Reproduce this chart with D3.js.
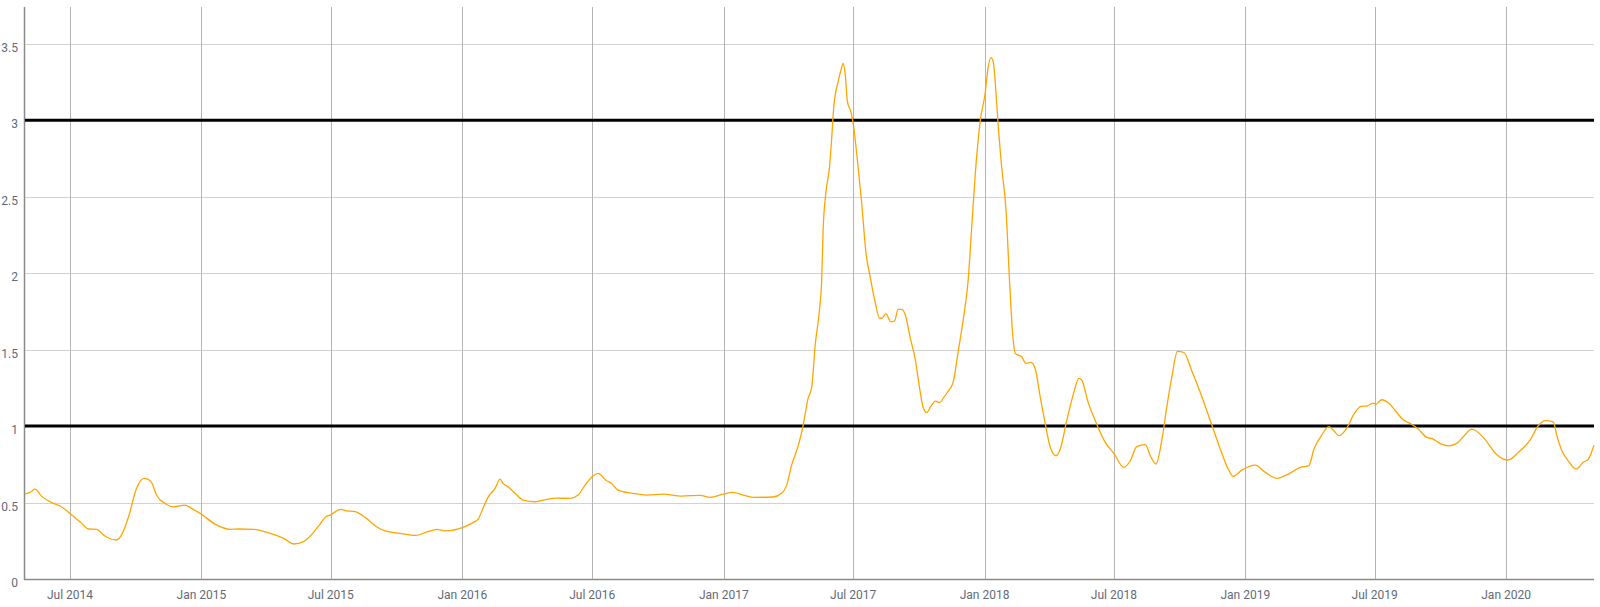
<!DOCTYPE html>
<html>
<head>
<meta charset="utf-8">
<script src="https://cdn.jsdelivr.net/npm/d3@7"></script>
<style>
  html, body { margin: 0; padding: 0; background: #ffffff; }
  svg { display: block; }
  text { font-family: Roboto, "Noto Sans", sans-serif; }
</style>
</head>
<body>
<svg id="chart" width="1600" height="607"></svg>
<script>
// ---- Data ----
const dates = [
  "2014-04-29","2014-05-06","2014-05-13","2014-05-22","2014-06-08","2014-06-17","2014-07-01","2014-07-15","2014-07-27","2014-08-07",
  "2014-08-19","2014-09-03","2014-09-11","2014-09-21","2014-10-02","2014-10-13","2014-10-23","2014-10-30","2014-11-11","2014-11-23",
  "2014-12-09","2014-12-18","2015-01-01","2015-01-20","2015-02-10","2015-02-22","2015-03-15","2015-04-05","2015-04-26","2015-05-10",
  "2015-05-24","2015-06-16","2015-06-23","2015-06-30","2015-07-15","2015-07-23","2015-08-04","2015-08-18","2015-09-03","2015-09-15",
  "2015-10-06","2015-10-28","2015-11-12","2015-11-27","2015-12-08","2016-01-02","2016-01-14","2016-01-23","2016-01-30","2016-02-06",
  "2016-02-16","2016-02-23","2016-02-27","2016-03-05","2016-03-15","2016-03-26","2016-04-12","2016-04-28","2016-05-12","2016-05-31",
  "2016-06-11","2016-06-21","2016-07-02","2016-07-09","2016-07-21","2016-07-28","2016-08-06","2016-08-27","2016-09-15","2016-10-08",
  "2016-11-03","2016-11-29","2016-12-13","2016-12-31","2017-01-14","2017-01-28","2017-02-11","2017-03-11","2017-03-23","2017-03-30",
  "2017-04-06","2017-04-15","2017-04-22","2017-04-29","2017-05-04","2017-05-09","2017-05-15","2017-05-18","2017-05-20","2017-05-24",
  "2017-05-29","2017-06-01","2017-06-04","2017-06-10","2017-06-15","2017-06-17","2017-06-20","2017-06-23","2017-06-28","2017-07-01",
  "2017-07-07","2017-07-13","2017-07-19","2017-07-25","2017-08-01","2017-08-07","2017-08-10","2017-08-16","2017-08-23","2017-08-28",
  "2017-09-02","2017-09-07","2017-09-12","2017-09-19","2017-09-26","2017-10-02","2017-10-07","2017-10-12","2017-10-18","2017-10-24",
  "2017-10-30","2017-11-04","2017-11-10","2017-11-18","2017-11-25","2017-12-02","2017-12-09","2017-12-14","2017-12-19","2017-12-26",
  "2018-01-02","2018-01-06","2018-01-10","2018-01-13","2018-01-17","2018-01-20","2018-01-25","2018-01-31","2018-02-05","2018-02-09",
  "2018-02-13","2018-02-17","2018-02-22","2018-02-28","2018-03-07","2018-03-13","2018-03-20","2018-03-27","2018-04-03","2018-04-11",
  "2018-04-17","2018-04-26","2018-05-06","2018-05-13","2018-05-17","2018-05-26","2018-06-05","2018-06-19","2018-07-01","2018-07-15",
  "2018-07-24","2018-08-02","2018-08-14","2018-08-21","2018-08-29","2018-09-06","2018-09-13","2018-09-20","2018-09-28","2018-10-07",
  "2018-10-18","2018-10-30","2018-11-13","2018-11-27","2018-12-08","2018-12-15","2018-12-27","2019-01-15","2019-01-29","2019-02-14",
  "2019-03-02","2019-03-19","2019-03-31","2019-04-07","2019-04-16","2019-04-28","2019-05-05","2019-05-12","2019-05-23","2019-06-02",
  "2019-06-12","2019-06-20","2019-06-29","2019-07-03","2019-07-11","2019-07-21","2019-07-30","2019-08-10","2019-08-20","2019-08-31",
  "2019-09-12","2019-09-21","2019-09-28","2019-10-12","2019-10-24","2019-11-02","2019-11-14","2019-11-30","2019-12-19","2020-01-04",
  "2020-01-18","2020-02-03","2020-02-15","2020-02-25","2020-03-07","2020-03-12","2020-03-19","2020-03-28","2020-04-08","2020-04-18",
  "2020-04-25","2020-05-03"
];
const values = [
  0.555,0.566,0.588,0.542,0.494,0.477,0.429,0.374,0.327,0.325,
  0.281,0.255,0.287,0.407,0.592,0.658,0.632,0.549,0.494,0.472,
  0.483,0.462,0.423,0.359,0.325,0.327,0.325,0.302,0.266,0.229,
  0.244,0.359,0.403,0.418,0.455,0.446,0.440,0.403,0.342,0.314,
  0.298,0.285,0.307,0.325,0.315,0.338,0.364,0.390,0.462,0.534,
  0.592,0.653,0.625,0.603,0.560,0.516,0.505,0.521,0.529,0.527,
  0.549,0.614,0.673,0.690,0.642,0.625,0.581,0.560,0.549,0.555,
  0.542,0.547,0.534,0.555,0.566,0.549,0.534,0.536,0.560,0.612,
  0.745,0.867,1.002,1.181,1.251,1.530,1.763,1.949,2.274,2.530,
  2.693,2.879,3.088,3.251,3.344,3.372,3.298,3.123,3.053,2.984,
  2.740,2.460,2.135,1.972,1.809,1.705,1.705,1.733,1.681,1.686,
  1.763,1.763,1.728,1.577,1.437,1.251,1.123,1.088,1.130,1.163,
  1.153,1.181,1.221,1.286,1.484,1.693,1.949,2.298,2.647,2.995,
  3.181,3.344,3.409,3.386,3.181,2.972,2.693,2.414,1.949,1.623,
  1.475,1.464,1.453,1.410,1.416,1.373,1.187,1.013,0.861,0.806,
  0.850,1.035,1.220,1.312,1.301,1.155,1.035,0.893,0.821,0.730,
  0.773,0.865,0.878,0.806,0.752,0.904,1.122,1.318,1.488,1.481,
  1.362,1.220,1.035,0.850,0.719,0.671,0.712,0.745,0.697,0.658,
  0.686,0.730,0.741,0.850,0.926,0.996,0.969,0.937,0.987,1.078,
  1.129,1.131,1.150,1.144,1.172,1.148,1.100,1.041,1.017,0.980,
  0.926,0.915,0.893,0.871,0.887,0.930,0.980,0.926,0.813,0.778,
  0.828,0.904,1.002,1.035,1.028,0.937,0.839,0.773,0.719,0.763,
  0.784,0.875
];
const yTickValues = [0, 0.5, 1, 1.5, 2, 2.5, 3, 3.5];
const yTickLabels = ["0", "0.5", "1", "1.5", "2", "2.5", "3", "3.5"];
const referenceLevels = [1, 3];
const xDomain = ["2014-04-29", "2020-05-03"];
const yMax = 3.74;

// ---- Layout ----
const plotLeft = 25, plotRight = 1594, plotTop = 7, plotBottom = 579;

const parse = d3.timeParse("%Y-%m-%d");
const data = dates.map((d, i) => ({ date: parse(d), value: values[i] }));

const x = d3.scaleTime().domain(xDomain.map(parse)).range([plotLeft, plotRight]);
const y = d3.scaleLinear().domain([0, yMax]).range([plotBottom, plotTop]);

const svg = d3.select("#chart");
const textColor = "#626a78";

// horizontal gridlines
svg.append("g")
  .selectAll("line")
  .data(yTickValues.filter(v => v > 0))
  .join("line")
  .attr("x1", plotLeft).attr("x2", plotRight)
  .attr("y1", d => Math.round(y(d)) + 0.5).attr("y2", d => Math.round(y(d)) + 0.5)
  .attr("stroke", "#d2d2d2").attr("stroke-width", 1);

// vertical gridlines (every 6 months)
const xTicks = x.ticks(d3.timeMonth.every(6));
svg.append("g")
  .selectAll("line")
  .data(xTicks)
  .join("line")
  .attr("x1", d => Math.round(x(d)) + 0.5).attr("x2", d => Math.round(x(d)) + 0.5)
  .attr("y1", plotTop).attr("y2", plotBottom)
  .attr("stroke", "#b4b4b4").attr("stroke-width", 1);

// y tick labels
svg.append("g")
  .selectAll("text")
  .data(yTickValues)
  .join("text")
  .attr("x", 18)
  .attr("y", d => y(d) + 8)
  .attr("text-anchor", "end")
  .attr("font-size", 12)
  .attr("fill", textColor)
  .text((d, i) => yTickLabels[i]);

// x tick labels
const fmt = d3.timeFormat("%b %Y");
svg.append("g")
  .selectAll("text")
  .data(xTicks)
  .join("text")
  .attr("x", d => x(d))
  .attr("y", 599)
  .attr("text-anchor", "middle")
  .attr("font-size", 12)
  .attr("fill", textColor)
  .text(d => fmt(d));

// axes lines
svg.append("line")
  .attr("x1", plotLeft - 0.5).attr("x2", plotLeft - 0.5)
  .attr("y1", plotTop).attr("y2", plotBottom + 1)
  .attr("stroke", "#8a8a8a").attr("stroke-width", 1.5);
svg.append("line")
  .attr("x1", plotLeft - 1).attr("x2", plotRight)
  .attr("y1", plotBottom + 0.5).attr("y2", plotBottom + 0.5)
  .attr("stroke", "#8a8a8a").attr("stroke-width", 1.5);

// reference lines
svg.append("g")
  .selectAll("line")
  .data(referenceLevels)
  .join("line")
  .attr("x1", plotLeft).attr("x2", plotRight)
  .attr("y1", d => y(d)).attr("y2", d => y(d))
  .attr("stroke", "#000").attr("stroke-width", 3);

// series line
const line = d3.line()
  .x(d => x(d.date))
  .y(d => y(d.value))
  .curve(d3.curveMonotoneX);

svg.append("path")
  .datum(data)
  .attr("d", line)
  .attr("fill", "none")
  .attr("stroke", "#FFA500")
  .attr("stroke-width", 1.3)
  .attr("stroke-linejoin", "round");
</script>
</body>
</html>
